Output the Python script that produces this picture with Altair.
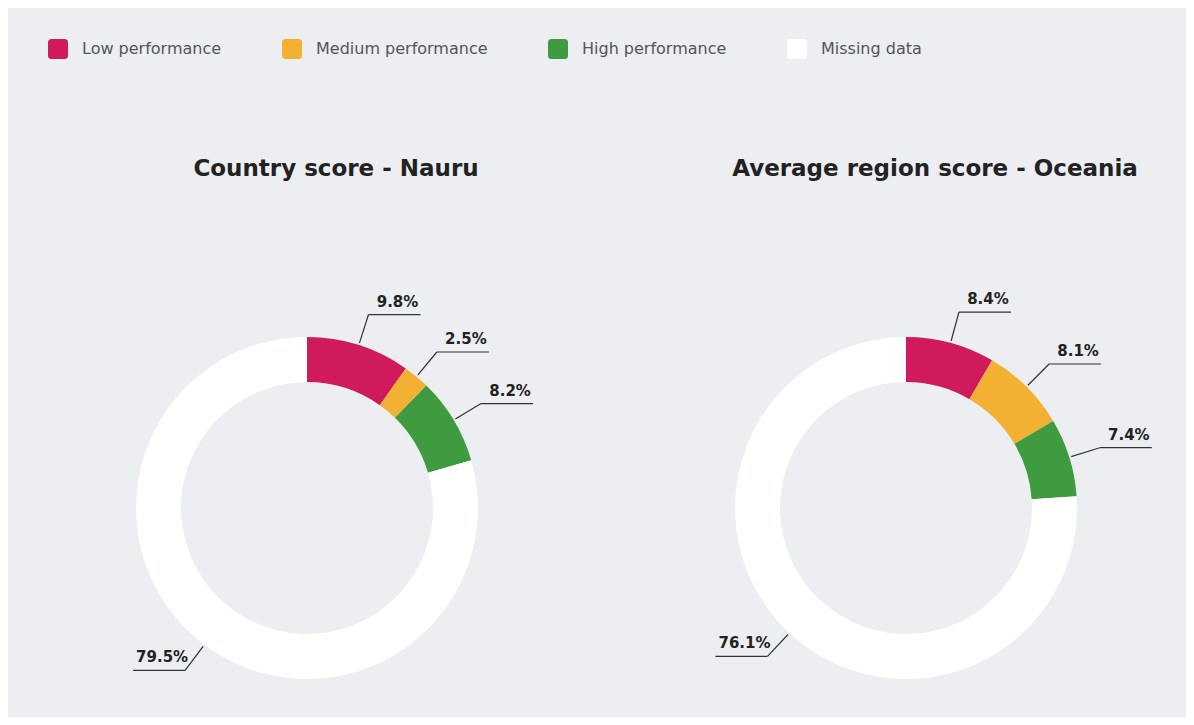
import math
import altair as alt
import pandas as pd

# ---- data ----
categories = ["Low performance", "Medium performance", "High performance", "Missing data"]
colors = ["#cf1a5b", "#f3b134", "#3e9b3f", "#ffffff"]
panel_titles = ["Country score - Nauru", "Average region score - Oceania"]
nauru_values = [9.8, 2.5, 8.2, 79.5]
oceania_values = [8.4, 8.1, 7.4, 76.1]

# ---- layout (pixels) ----
W, H = 1178, 709
CX = [299, 898]
CY = 500
R_OUT, R_IN = 171, 126
R_START, R_BEND, HLEN = 173, 203, 52
TITLE_X = [328, 927]
TITLE_Y = 161

arc_rows, lead_rows = [], []
for p, vals in enumerate([nauru_values, oceania_values]):
    cum = 0.0
    for cat, v in zip(categories, vals):
        t0 = cum / 100 * 2 * math.pi
        t1 = (cum + v) / 100 * 2 * math.pi
        cum += v
        arc_rows.append({"panel": p, "cat": cat, "t0": t0, "t1": t1})
        a = (t0 + t1) / 2
        sx = CX[p] + R_START * math.sin(a)
        sy = CY - R_START * math.cos(a)
        bx = CX[p] + R_BEND * math.sin(a)
        by = CY - R_BEND * math.cos(a)
        ex = bx + (HLEN if math.sin(a) > 0 else -HLEN)
        lead_rows.append({"panel": p, "sx": sx, "sy": sy, "bx": bx, "by": by,
                          "ex": ex, "tx": (bx + ex) / 2 + 3, "ty": by - 5,
                          "label": f"{v}%"})

arcs = pd.DataFrame(arc_rows)
leads = pd.DataFrame(lead_rows)
titles = pd.DataFrame({"x": TITLE_X, "y": [TITLE_Y, TITLE_Y], "title": panel_titles})

xs = alt.Scale(domain=[0, W], range=[0, W])
ys = alt.Scale(domain=[0, H], range=[0, H])

rounded = ("M-0.65,-1L0.65,-1Q1,-1 1,-0.65L1,0.65Q1,1 0.65,1L-0.65,1Q-1,1 -1,0.65"
           "L-1,-0.65Q-1,-1 -0.65,-1Z")

color = alt.Color("cat:N", scale=alt.Scale(domain=categories, range=colors),
                  legend=alt.Legend(title=None, orient="none", direction="horizontal",
                                    legendX=40, legendY=31, symbolType=rounded,
                                    symbolSize=400, symbolStrokeWidth=0,
                                    labelFont="DejaVu Sans", labelFontSize=16,
                                    labelColor="#555555", labelOffset=14,
                                    labelLimit=400,
                                    columnPadding=60, symbolOpacity=1))

layers = []
for p in range(2):
    layers.append(
        alt.Chart(arcs[arcs.panel == p]).mark_arc(innerRadius=R_IN, outerRadius=R_OUT,
                                                  strokeWidth=0).encode(
            x=alt.value(CX[p]), y=alt.value(CY),
            theta=alt.Theta("t0:Q", scale=None), theta2="t1:Q",
            color=color, order=alt.Order("t0:Q")
        )
    )

base = alt.Chart(leads)
seg1 = base.mark_rule(color="#333333", strokeWidth=1.2).encode(
    x=alt.X("sx:Q", scale=xs, axis=None), y=alt.Y("sy:Q", scale=ys, axis=None),
    x2="bx:Q", y2="by:Q")
seg2 = base.mark_rule(color="#333333", strokeWidth=1.2).encode(
    x=alt.X("bx:Q", scale=xs, axis=None), y=alt.Y("by:Q", scale=ys, axis=None),
    x2="ex:Q", y2="by:Q")
lab = base.mark_text(font="DejaVu Sans", fontSize=15, fontWeight="bold",
                     color="#222222", baseline="bottom", align="center").encode(
    x=alt.X("tx:Q", scale=xs, axis=None), y=alt.Y("ty:Q", scale=ys, axis=None),
    text="label:N")
tit = alt.Chart(titles).mark_text(font="DejaVu Sans", fontSize=23, fontWeight="bold",
                                  color="#222222", baseline="middle", align="center").encode(
    x=alt.X("x:Q", scale=xs, axis=None), y=alt.Y("y:Q", scale=ys, axis=None),
    text="title:N")

chart = alt.layer(*layers, seg1, seg2, lab, tit).properties(
    width=W, height=H, padding=0, autosize=alt.AutoSizeParams(type="none"),
    background="#eceef1"
).configure_view(stroke=None)

chart.save("out.html", embed_options={"renderer": "svg", "actions": False})
